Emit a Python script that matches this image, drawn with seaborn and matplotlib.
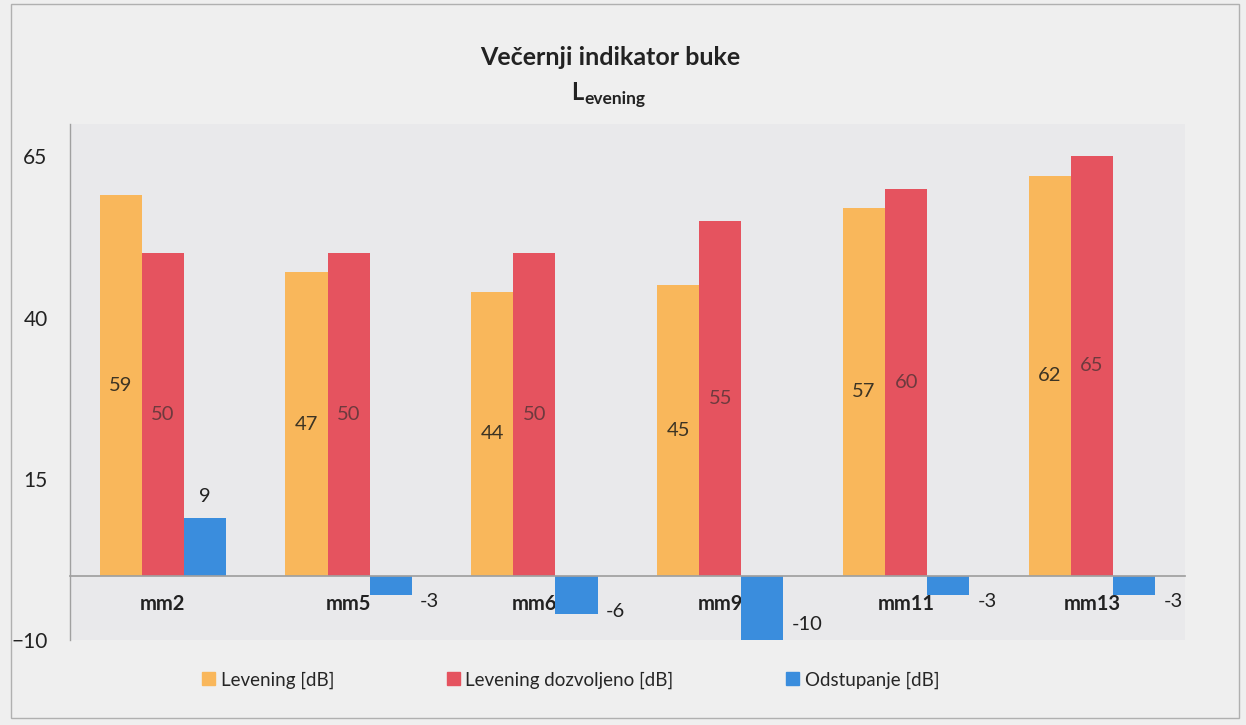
import matplotlib
matplotlib.use('Agg')
import matplotlib.pyplot as plt
from matplotlib.patches import Rectangle
import seaborn as sns
import pandas as pd

# values
categories = ['mm2', 'mm5', 'mm6', 'mm9', 'mm11', 'mm13']
levening = [59, 47, 44, 45, 57, 62]
dozvoljeno = [50, 50, 50, 55, 60, 65]
odstupanje = [9, -3, -6, -10, -3, -3]
series = ['Levening [dB]', 'Levening dozvoljeno [dB]', 'Odstupanje [dB]']
colors = ['#f9b75b', '#e5535f', '#3a8ddd']
yticks = [-10, 15, 40, 65]

df = pd.DataFrame({
    'mjesto': categories * 3,
    'serija': [series[0]] * 6 + [series[1]] * 6 + [series[2]] * 6,
    'vrijednost': levening + dozvoljeno + odstupanje,
})

sns.set_theme(style='white')
plt.rcParams['font.family'] = ['Lato', 'DejaVu Sans']

fig = plt.figure(figsize=(12.46, 7.25), dpi=100, facecolor='#efefef')
ax = fig.add_axes([0.056, 0.117, 0.895, 0.712])
ax.set_facecolor('#e9e9eb')

sns.barplot(data=df, x='mjesto', y='vrijednost', hue='serija', order=categories,
            hue_order=series, palette=colors, saturation=1, width=0.68,
            errorbar=None, linewidth=0, ax=ax)
ax.legend_.remove()

ax.set_ylim(-10, 70)
ax.set_yticks(yticks)
ax.set_xlabel('')
ax.set_ylabel('')
ax.tick_params(axis='y', length=0, pad=16, labelsize=15, labelcolor='#222222')
ax.tick_params(axis='x', length=0, pad=13)

for s in ['top', 'right']:
    ax.spines[s].set_visible(False)
ax.spines['bottom'].set_position(('data', 0))
ax.spines['bottom'].set_color('#a0a0a0')
ax.spines['left'].set_color('#a0a0a0')
ax.spines['left'].set_linewidth(1)
ax.set_xlim(-0.5, 5.5)
ax.set_xticks(range(len(categories)))
ax.set_xticklabels(categories, fontsize=14.5, fontweight='bold', color='#222222')

# value labels
ax.bar_label(ax.containers[0], label_type='center', fontsize=14.5, color='#3d3424')
ax.bar_label(ax.containers[1], label_type='center', fontsize=14.5, color='#6e3a3e')
for bar, v in zip(ax.containers[2], odstupanje):
    x_right = bar.get_x() + bar.get_width()
    xc = bar.get_x() + bar.get_width() / 2
    if v >= 0:
        ax.annotate(str(v), (xc, v), xytext=(0, 9), textcoords='offset points',
                    ha='center', va='bottom', fontsize=14.5, color='#222222')
    else:
        ax.annotate(str(v), (x_right, v / 2), xytext=(6, -12), textcoords='offset points',
                    ha='left', va='center', fontsize=14.5, color='#222222')

# title with subscript
fig.text(0.49, 0.921, 'Večernji indikator buke', ha='center', va='center',
         fontsize=18, fontweight='bold', color='#222222')
fig.text(0.4635, 0.873, 'L', ha='center', va='center', fontsize=17,
         fontweight='bold', color='#222222')
fig.text(0.469, 0.864, 'evening', ha='left', va='center', fontsize=12.5,
         fontweight='bold', color='#222222')

handles = [Rectangle((0, 0), 1, 1, color=c) for c in colors]
fig.legend(handles, series, loc='center', bbox_to_anchor=(0.458, 0.062), ncol=3,
           frameon=False, fontsize=13.5, handlelength=0.7, handleheight=0.7,
           handletextpad=0.3, columnspacing=6.0)

fig.add_artist(Rectangle((0.009, 0.01), 0.985, 0.985, transform=fig.transFigure,
                         fill=False, edgecolor='#b0b0b0', linewidth=1))

fig.savefig('out.png', dpi=100, facecolor=fig.get_facecolor())
